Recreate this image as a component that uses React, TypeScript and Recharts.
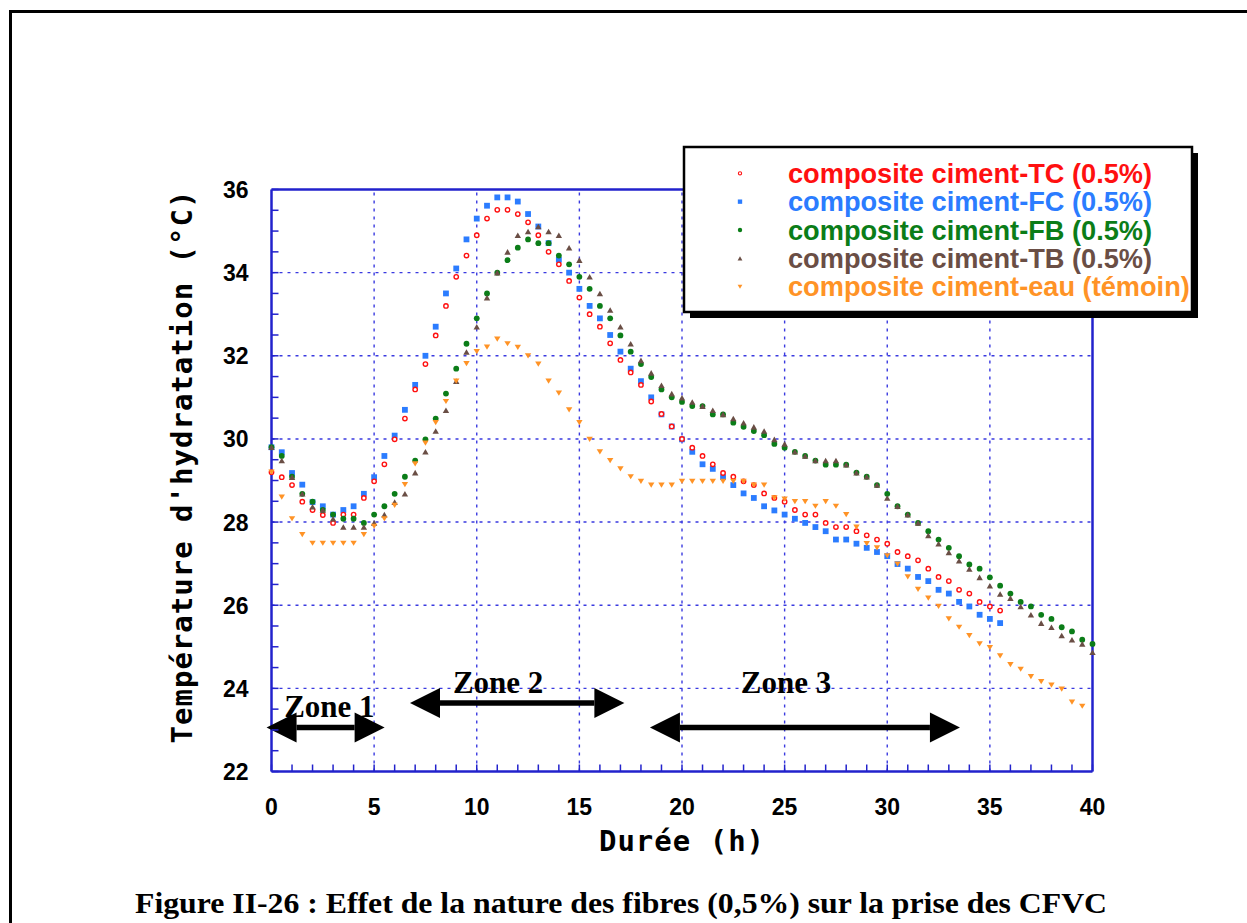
import React from 'react';
import { ScatterChart, Scatter, XAxis, YAxis, ReferenceLine } from 'recharts';

// ---------- data ----------
const hours = [
  0, 0.5, 1, 1.5, 2, 2.5, 3, 3.5, 4, 4.5,
  5, 5.5, 6, 6.5, 7, 7.5, 8, 8.5, 9, 9.5,
  10, 10.5, 11, 11.5, 12, 12.5, 13, 13.5, 14, 14.5,
  15, 15.5, 16, 16.5, 17, 17.5, 18, 18.5, 19, 19.5,
  20, 20.5, 21, 21.5, 22, 22.5, 23, 23.5, 24, 24.5,
  25, 25.5, 26, 26.5, 27, 27.5, 28, 28.5, 29, 29.5,
  30, 30.5, 31, 31.5, 32, 32.5, 33, 33.5, 34, 34.5,
  35, 35.5, 36, 36.5, 37, 37.5, 38, 38.5, 39, 39.5,
  40,
];

const tcValues = [
  29.2, 29.08, 28.89, 28.49, 28.29, 28.17, 27.98, 28.18, 28.18, 28.58,
  28.98, 29.39, 29.99, 30.49, 31.19, 31.8, 32.49, 33.2, 33.9, 34.41,
  34.9, 35.3, 35.51, 35.51, 35.41, 35.21, 34.9, 34.5, 34.2, 33.8,
  33.4, 33.0, 32.7, 32.3, 31.9, 31.6, 31.3, 30.9, 30.6, 30.3,
  30.0, 29.79, 29.59, 29.39, 29.18, 29.09, 28.98, 28.89, 28.69, 28.58,
  28.49, 28.29, 28.18, 28.18, 27.98, 27.88, 27.88, 27.78, 27.68, 27.58,
  27.48, 27.28, 27.18, 27.08, 26.88, 26.68, 26.58, 26.37, 26.28, 26.08,
  25.97, 25.87, null, null, null, null, null, null, null, null,
  null,
];

const fcValues = [
  29.8, 29.68, 29.18, 28.9, 28.48, 28.38, 28.18, 28.29, 28.38, 28.68,
  29.08, 29.59, 30.08, 30.7, 31.3, 32.0, 32.7, 33.5, 34.1, 34.8,
  35.3, 35.61, 35.81, 35.81, 35.71, 35.41, 35.11, 34.71, 34.31, 34.0,
  33.61, 33.2, 32.9, 32.5, 32.1, 31.69, 31.39, 31.0, 30.59, 30.3,
  29.99, 29.69, 29.39, 29.28, 29.08, 28.89, 28.69, 28.58, 28.38, 28.28,
  28.18, 28.08, 27.98, 27.88, 27.78, 27.58, 27.58, 27.48, 27.38, 27.28,
  27.18, 26.99, 26.88, 26.68, 26.58, 26.37, 26.28, 26.08, 25.97, 25.77,
  25.67, 25.57, null, null, null, null, null, null, null, null,
  null,
];

const fbValues = [
  29.8, 29.59, 29.09, 28.68, 28.49, 28.29, 28.18, 28.08, 28.08, 27.98,
  28.18, 28.38, 28.68, 29.09, 29.48, 29.99, 30.49, 31.09, 31.69, 32.29,
  32.9, 33.5, 34.0, 34.3, 34.6, 34.8, 34.71, 34.71, 34.41, 34.2,
  33.9, 33.61, 33.2, 32.9, 32.49, 32.1, 31.8, 31.49, 31.19, 31.0,
  30.89, 30.79, 30.79, 30.59, 30.59, 30.39, 30.29, 30.19, 30.09, 29.88,
  29.79, 29.69, 29.59, 29.48, 29.38, 29.38, 29.38, 29.19, 29.09, 28.89,
  28.68, 28.38, 28.18, 27.98, 27.78, 27.58, 27.38, 27.18, 26.98, 26.88,
  26.67, 26.47, 26.28, 26.08, 25.97, 25.77, 25.67, 25.47, 25.37, 25.17,
  25.07,
];

const tbValues = [
  29.8, 29.48, 29.08, 28.68, 28.37, 28.29, 28.08, 27.88, 27.88, 27.88,
  27.98, 28.18, 28.48, 28.68, 29.19, 29.69, 30.19, 30.69, 31.39, 32.09,
  32.7, 33.4, 34.0, 34.5, 34.9, 34.99, 35.11, 34.99, 34.9, 34.6,
  34.3, 33.9, 33.5, 33.1, 32.7, 32.29, 31.89, 31.59, 31.29, 31.09,
  30.99, 30.89, 30.79, 30.69, 30.59, 30.49, 30.39, 30.29, 30.19, 29.99,
  29.88, 29.69, 29.59, 29.48, 29.48, 29.48, 29.38, 29.19, 29.09, 28.89,
  28.58, 28.38, 28.18, 27.98, 27.68, 27.48, 27.27, 27.07, 26.87, 26.67,
  26.47, 26.27, 26.17, 25.97, 25.77, 25.57, 25.47, 25.27, 25.17, 25.07,
  24.87,
];

const eauValues = [
  29.2, 28.6, 28.08, 27.7, 27.49, 27.49, 27.49, 27.49, 27.49, 27.7,
  27.9, 28.08, 28.4, 28.9, 29.4, 29.9, 30.39, 30.9, 31.39, 31.81,
  32.1, 32.21, 32.4, 32.29, 32.2, 32.0, 31.8, 31.39, 31.1, 30.7,
  30.39, 29.99, 29.69, 29.48, 29.28, 29.09, 28.98, 28.89, 28.89, 28.89,
  28.98, 28.98, 28.98, 28.98, 28.98, 28.98, 28.98, 28.89, 28.89, 28.58,
  28.55, 28.49, 28.49, 28.38, 28.49, 28.38, 28.18, 27.88, 27.48, 27.38,
  27.19, 26.99, 26.68, 26.38, 26.17, 25.97, 25.67, 25.47, 25.27, 25.07,
  24.98, 24.78, 24.57, 24.46, 24.28, 24.16, 24.08, 23.98, 23.67, 23.57,
  null,
];

const seriesNames = [
  'composite ciment-TC (0.5%)',
  'composite ciment-FC (0.5%)',
  'composite ciment-FB (0.5%)',
  'composite ciment-TB (0.5%)',
  'composite ciment-eau (témoin)',
];

const xTicks = [
  0, 1, 2, 3, 4, 5, 6, 7, 8, 9, 10, 11, 12, 13, 14, 15, 16, 17, 18, 19, 20,
  21, 22, 23, 24, 25, 26, 27, 28, 29, 30, 31, 32, 33, 34, 35, 36, 37, 38, 39, 40,
];
const xLabelTicks = [0, 5, 10, 15, 20, 25, 30, 35, 40];
const yTicks = [
  22, 22.5, 23, 23.5, 24, 24.5, 25, 25.5, 26, 26.5, 27, 27.5, 28, 28.5, 29,
  29.5, 30, 30.5, 31, 31.5, 32, 32.5, 33, 33.5, 34, 34.5, 35, 35.5, 36,
];
const yLabelTicks = [22, 24, 26, 28, 30, 32, 34, 36];
const gridX = [5, 10, 15, 20, 25, 30, 35];
const gridY = [24, 26, 28, 30, 32, 34];

// zone annotations (in data units: hours / °C)
const zoneNames = ['Zone 1', 'Zone 2', 'Zone 3'];
const zoneStart = [1.22, 8.21, 19.9];
const zoneEnd = [4.05, 15.73, 32.08];
const zoneArrowY = [23.06, 23.65, 23.06];
const zoneLabelX = [2.82, 11.04, 25.07];
const zoneLabelY = [23.3, 23.88, 23.88];

const titleText = 'Figure II-26 : Effet de la nature des fibres (0,5%) sur la prise des CFVC';
const xTitle = 'Durée (h)';
const yTitle = "Température d'hydratation (°C)";

// ---------- styles ----------
const AXIS = '#2222cc';
const GRID = '#3a3ae0';
const COLORS = ['#ff1010', '#2b7cff', '#0b7d18', '#6a4e45', '#ff9326'];
const KINDS = ['ring', 'square', 'dot', 'up', 'down'];
const SANS = '"Liberation Sans", Arial, Helvetica, sans-serif';
const SERIF = '"Liberation Serif", "Times New Roman", serif';
const MONO = '"DejaVu Sans Mono", monospace';

const build = (vals: (number | null)[]) =>
  hours.map((h, i) => ({ x: h, y: vals[i] })).filter((d) => d.y !== null && d.y !== undefined);

const allSeries = [tcValues, fcValues, fbValues, tbValues, eauValues];

function Marker({ kind, cx, cy, color, k = 1 }: any) {
  if (cx == null || cy == null) return null;
  switch (kind) {
    case 'ring':
      return <circle cx={cx} cy={cy} r={2.2 * k} fill="#fff" stroke={color} strokeWidth={1.4 * k} />;
    case 'square': {
      const s = 5.8 * k;
      return <rect x={cx - s / 2} y={cy - s / 2} width={s} height={s} fill={color} />;
    }
    case 'dot':
      return <circle cx={cx} cy={cy} r={2.9 * k} fill={color} />;
    case 'up': {
      const w = 3.2 * k;
      const h = 2.8 * k;
      return <polygon points={`${cx},${cy - h} ${cx + w},${cy + h} ${cx - w},${cy + h}`} fill={color} />;
    }
    case 'down': {
      const w = 3.2 * k;
      const h = 2.6 * k;
      return <polygon points={`${cx - w},${cy - h} ${cx + w},${cy - h} ${cx},${cy + h}`} fill={color} />;
    }
    default:
      return null;
  }
}

const TICK_LEN = 7;
const TICK_FONT = 23;

const BottomTick = (props: any) => {
  const { x, y, payload } = props;
  const v = payload.value;
  return (
    <g>
      <line x1={x} x2={x} y1={y} y2={y - TICK_LEN} stroke={AXIS} strokeWidth={1.5} />
      {xLabelTicks.includes(v) && (
        <text x={x} y={y + 43} textAnchor="middle" fontFamily={SANS} fontWeight="bold" fontSize={TICK_FONT} fill="#000">
          {v}
        </text>
      )}
    </g>
  );
};

const TopTick = (props: any) => {
  const { x, y } = props;
  return <line x1={x} x2={x} y1={y} y2={y + TICK_LEN} stroke={AXIS} strokeWidth={1.5} />;
};

const LeftTick = (props: any) => {
  const { x, y, payload } = props;
  const v = payload.value;
  return (
    <g>
      <line x1={x} x2={x + TICK_LEN} y1={y} y2={y} stroke={AXIS} strokeWidth={1.5} />
      {yLabelTicks.includes(v) && (
        <text x={x - 23} y={y + 8.5} textAnchor="end" fontFamily={SANS} fontWeight="bold" fontSize={TICK_FONT} fill="#000">
          {v}
        </text>
      )}
    </g>
  );
};

const RightTick = (props: any) => {
  const { x, y } = props;
  return <line x1={x} x2={x - TICK_LEN} y1={y} y2={y} stroke={AXIS} strokeWidth={1.5} />;
};

const ArrowHead = (p: any) => {
  const { cx, cy } = p;
  const dir = (p.payload && p.payload.dir) || p.dir || 1;
  const len = 30;
  const half = 15;
  return (
    <polygon
      points={`${cx + dir * len},${cy} ${cx},${cy - half} ${cx},${cy + half}`}
      fill="#000"
    />
  );
};

const ZoneLabel = (p: any) => {
  const { cx, cy } = p;
  const label = (p.payload && p.payload.label) || p.label;
  return (
    <text x={cx} y={cy} textAnchor="middle" fontFamily={SERIF} fontWeight="bold" fontSize={31} fill="#000">
      {label}
    </text>
  );
};

// plot area: left 271.5, right 1092.5, top 189.5, bottom 771.5
const BOTTOM_H = 30;
const TOP_H = 10;
const LEFT_W = 30;
const RIGHT_W = 10;

const XTitleLabel = (p: any) => {
  const vb = p.viewBox || { x: 271.5, y: 771.5, width: 821, height: BOTTOM_H };
  return (
    <text x={vb.x + vb.width / 2} y={vb.y + 79} textAnchor="middle" fontFamily={MONO} fontWeight="bold" fontSize={29} letterSpacing={1} fill="#000">
      {xTitle}
    </text>
  );
};

const YTitleLabel = (p: any) => {
  const vb = p.viewBox || { x: 241.5, y: 189.5, width: LEFT_W, height: 582 };
  const cx = vb.x + (vb.width || 0) - 80;
  const cy = vb.y + vb.height / 2 - 14;
  return (
    <text x={cx} y={cy} transform={`rotate(-90 ${cx} ${cy})`} textAnchor="middle" fontFamily={MONO} fontWeight="bold" fontSize={29} letterSpacing={1} fill="#000">
      {yTitle}
    </text>
  );
};

export default function App() {
  const legendTop = 173.3;
  const legendStep = 28.35;
  const drawOrder = [1, 0, 2, 3, 4];
  return (
    <div style={{ position: 'absolute', left: 0, top: 0, width: 1247, height: 923, overflow: 'hidden', background: '#fff' }}>
      <svg width={1247} height={923} style={{ position: 'absolute', left: 0, top: 0 }}>
        <path d="M10.5 930 L10.5 11.5 L1250 11.5" fill="none" stroke="#000" strokeWidth={3} />
        <text x={621} y={913} textAnchor="middle" fontFamily={SERIF} fontWeight="bold" fontSize={30} fill="#000" textLength={972} lengthAdjust="spacingAndGlyphs">
          {titleText}
        </text>
      </svg>
      <div style={{ position: 'absolute', left: 0, top: 0 }}>
        <ScatterChart
          width={1247}
          height={923}
          margin={{ top: 189.5 - TOP_H, right: 154.5 - RIGHT_W, bottom: 151.5 - BOTTOM_H, left: 271.5 - LEFT_W }}
        >
          <XAxis
            xAxisId={0}
            type="number"
            dataKey="x"
            domain={[0, 40]}
            ticks={xTicks}
            interval={0}
            height={BOTTOM_H}
            tickSize={0}
            tickMargin={0}
            tickLine={false}
            axisLine={{ stroke: AXIS, strokeWidth: 2.5 }}
            tick={BottomTick}
            label={{ content: XTitleLabel }}
          />
          <XAxis
            xAxisId="top"
            orientation="top"
            type="number"
            dataKey="x"
            domain={[0, 40]}
            ticks={xTicks}
            interval={0}
            height={TOP_H}
            tickSize={0}
            tickMargin={0}
            tickLine={false}
            axisLine={{ stroke: AXIS, strokeWidth: 2.5 }}
            tick={TopTick}
          />
          <YAxis
            yAxisId={0}
            type="number"
            dataKey="y"
            domain={[22, 36]}
            ticks={yTicks}
            interval={0}
            width={LEFT_W}
            tickSize={0}
            tickMargin={0}
            tickLine={false}
            axisLine={{ stroke: AXIS, strokeWidth: 2.5 }}
            tick={LeftTick}
            label={{ content: YTitleLabel }}
          />
          <YAxis
            yAxisId="right"
            orientation="right"
            type="number"
            dataKey="y"
            domain={[22, 36]}
            ticks={yTicks}
            interval={0}
            width={RIGHT_W}
            tickSize={0}
            tickMargin={0}
            tickLine={false}
            axisLine={{ stroke: AXIS, strokeWidth: 2.5 }}
            tick={RightTick}
          />
          {gridX.map((v) => (
            <ReferenceLine key={`gx${v}`} x={v} stroke={GRID} strokeWidth={1.4} strokeDasharray="3 5" />
          ))}
          {gridY.map((v) => (
            <ReferenceLine key={`gy${v}`} y={v} stroke={GRID} strokeWidth={1.4} strokeDasharray="3 5" />
          ))}
          {zoneNames.map((z, i) => (
            <Scatter
              key={`arrow${i}`}
              name={`${z} arrow`}
              data={[
                { x: zoneStart[i], y: zoneArrowY[i], dir: -1 },
                { x: zoneEnd[i], y: zoneArrowY[i], dir: 1 },
              ]}
              fill="#000"
              line={{ stroke: '#000', strokeWidth: 5.5 }}
              shape={ArrowHead}
              isAnimationActive={false}
            />
          ))}
          {zoneNames.map((z, i) => (
            <Scatter
              key={`zl${i}`}
              name={z}
              data={[{ x: zoneLabelX[i], y: zoneLabelY[i], label: z }]}
              fill="#000"
              shape={ZoneLabel}
              isAnimationActive={false}
            />
          ))}
          {drawOrder.map((si) => (
            <Scatter
              key={`s${si}`}
              name={seriesNames[si]}
              data={build(allSeries[si])}
              fill={COLORS[si]}
              shape={(p: any) => <Marker kind={KINDS[si]} cx={p.cx} cy={p.cy} color={COLORS[si]} />}
              isAnimationActive={false}
            />
          ))}
        </ScatterChart>
      </div>
      <svg width={1247} height={923} style={{ position: 'absolute', left: 0, top: 0, pointerEvents: 'none' }}>
        <rect x={690} y={153} width={508} height={165} fill="#000" />
        <rect x={684} y={147} width={508} height={165} fill="#fff" stroke="#000" strokeWidth={2.5} />
        {seriesNames.map((name, i) => (
          <g key={name}>
            <Marker kind={KINDS[i]} cx={740} cy={legendTop + i * legendStep} color={COLORS[i]} k={0.75} />
            <text x={788} y={legendTop + i * legendStep + 9.5} fontFamily={SANS} fontWeight="bold" fontSize={27.2} fill={COLORS[i]}>
              {name}
            </text>
          </g>
        ))}
      </svg>
    </div>
  );
}
